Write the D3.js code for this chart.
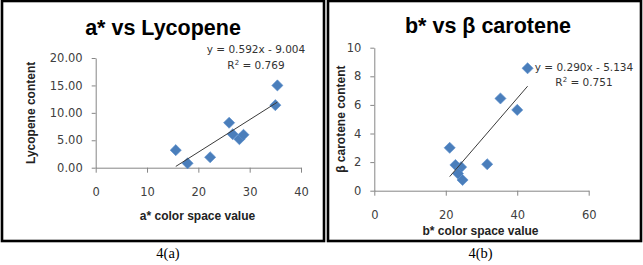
<!DOCTYPE html>
<html>
<head>
<meta charset="utf-8">
<script src="https://cdn.jsdelivr.net/npm/d3@7"></script>
<style>
  body { margin: 0; background: #fff; }
  svg { display: block; }
</style>
</head>
<body>
<div id="chart"></div>
<script>
// ---- data ----
const aStar = [15.6, 17.9, 22.3, 26.0, 26.7, 28.0, 28.8, 35.0, 35.4];
const lycopene = [3.2, 0.8, 1.9, 8.2, 6.1, 5.2, 6.0, 11.4, 15.0];
const aTicksX = [0, 10, 20, 30, 40];
const aTicksY = [0, 5, 10, 15, 20];

const bStar = [21.1, 22.7, 24.3, 23.4, 24.7, 31.6, 35.3, 40.0, 42.9];
const betaCarotene = [3.0, 1.8, 1.65, 1.2, 0.75, 1.85, 6.45, 5.65, 8.56];
const bTicksX = [0, 20, 40, 60];
const bTicksY = [0, 2, 4, 6, 8, 10];

const panels = [
  {
    title: "a* vs Lycopene", xLabel: "a* color space value", yLabel: "Lycopene content",
    caption: "4(a)", xs: aStar, ys: lycopene, xTicks: aTicksX, yTicks: aTicksY,
    slope: 0.592, intercept: -9.004, eq: "y = 0.592x - 9.004", r2: "0.769", yFmt: d3.format(".2f"),
    box: [2, 1, 322, 240], plot: { l: 95.7, r: 301, t: 58, b: 167.7 },
    titleX: 163, titleY: 35, eqX: 256, eqY: 53, capX: 168,
    xLabX: 197.5, xLabY: 220, yLabX: 34.5
  },
  {
    title: "b* vs \u03b2 carotene", xLabel: "b* color space value", yLabel: "\u03b2 carotene content",
    caption: "4(b)", xs: bStar, ys: betaCarotene, xTicks: bTicksX, yTicks: bTicksY,
    slope: 0.290, intercept: -5.134, eq: "y = 0.290x - 5.134", r2: "0.751", yFmt: d3.format("d"),
    box: [328, 1, 313, 240], plot: { l: 374.3, r: 588.7, t: 47.7, b: 190.7 },
    titleX: 488, titleY: 33, eqX: 584, eqY: 70.5, capX: 480.5,
    xLabX: 480.5, xLabY: 235, yLabX: 345
  }
];

const svg = d3.select("#chart").append("svg")
  .attr("width", 643)
  .attr("height", 265);

const axisColor = "#868686";
const labelColor = "#404040";
const marker = d3.symbol().type(d3.symbolSquare).size(62);

panels.forEach(p => {
  const g = svg.append("g");

  // frame around each panel
  g.append("rect")
    .attr("x", p.box[0]).attr("y", p.box[1])
    .attr("width", p.box[2]).attr("height", p.box[3])
    .attr("fill", "none")
    .attr("stroke", "#000")
    .attr("stroke-width", 2.6);

  const x = d3.scaleLinear()
    .domain(d3.extent(p.xTicks))
    .range([p.plot.l, p.plot.r]);
  const y = d3.scaleLinear()
    .domain(d3.extent(p.yTicks))
    .range([p.plot.b, p.plot.t]);

  // title
  g.append("text")
    .attr("x", p.titleX).attr("y", p.titleY)
    .attr("text-anchor", "middle")
    .style("font-family", "'Liberation Sans', Arial, sans-serif")
    .style("font-weight", "bold")
    .style("font-size", "21.5px")
    .text(p.title);

  // x axis
  const xAxis = g.append("g")
    .attr("transform", `translate(0,${p.plot.b})`)
    .call(d3.axisBottom(x).tickValues(p.xTicks).tickSize(5).tickPadding(15).tickSizeOuter(0));
  // y axis
  const yAxis = g.append("g")
    .attr("transform", `translate(${p.plot.l},0)`)
    .call(d3.axisLeft(y).tickValues(p.yTicks).tickFormat(p.yFmt).tickSize(4).tickPadding(9).tickSizeOuter(0));

  [xAxis, yAxis].forEach(a => {
    a.selectAll("path, line").attr("stroke", axisColor);
    a.selectAll("text")
      .attr("fill", labelColor)
      .style("font-family", "'DejaVu Sans', sans-serif")
      .style("font-size", "11.5px");
  });

  // axis titles
  g.append("text")
    .attr("x", p.xLabX)
    .attr("y", p.xLabY)
    .attr("text-anchor", "middle")
    .style("font-family", "'Liberation Sans', Arial, sans-serif")
    .style("font-weight", "bold")
    .style("font-size", "12px")
    .attr("fill", "#222")
    .text(p.xLabel);

  g.append("text")
    .attr("transform", `translate(${p.yLabX},${(p.plot.t + p.plot.b) / 2}) rotate(-90)`)
    .attr("text-anchor", "middle")
    .style("font-family", "'Liberation Sans', Arial, sans-serif")
    .style("font-weight", "bold")
    .style("font-size", "12px")
    .attr("fill", "#222")
    .text(p.yLabel);

  // points
  const pts = p.xs.map((v, i) => ({ x: v, y: p.ys[i] }));
  g.append("g").selectAll("path")
    .data(pts)
    .join("path")
    .attr("d", marker)
    .attr("transform", d => `translate(${x(d.x)},${y(d.y)}) rotate(45)`)
    .attr("fill", "#4a7ebb")
    .attr("stroke", "#5b8fcc")
    .attr("stroke-width", 0.6);

  // linear trend line across the data range
  const xr = d3.extent(p.xs);
  g.append("line")
    .attr("x1", x(xr[0])).attr("y1", y(p.slope * xr[0] + p.intercept))
    .attr("x2", x(xr[1])).attr("y2", y(p.slope * xr[1] + p.intercept))
    .attr("stroke", "#3a3a3a")
    .attr("stroke-width", 1);

  // equation + R squared
  const eq = g.append("g")
    .attr("text-anchor", "middle")
    .attr("fill", "#333")
    .style("font-family", "'DejaVu Sans', sans-serif")
    .style("font-size", "10.5px");
  eq.append("text").attr("x", p.eqX).attr("y", p.eqY).text(p.eq);
  const r = eq.append("text").attr("x", p.eqX).attr("y", p.eqY + 15.5);
  r.append("tspan").text("R");
  r.append("tspan").attr("dy", -4).style("font-size", "7px").text("2");
  r.append("tspan").attr("dy", 4).text(" = " + p.r2);

  // caption under the panel
  g.append("text")
    .attr("x", p.capX).attr("y", 258)
    .attr("text-anchor", "middle")
    .style("font-family", "'Liberation Serif', 'Times New Roman', serif")
    .style("font-size", "14.5px")
    .text(p.caption);
});
</script>
</body>
</html>
